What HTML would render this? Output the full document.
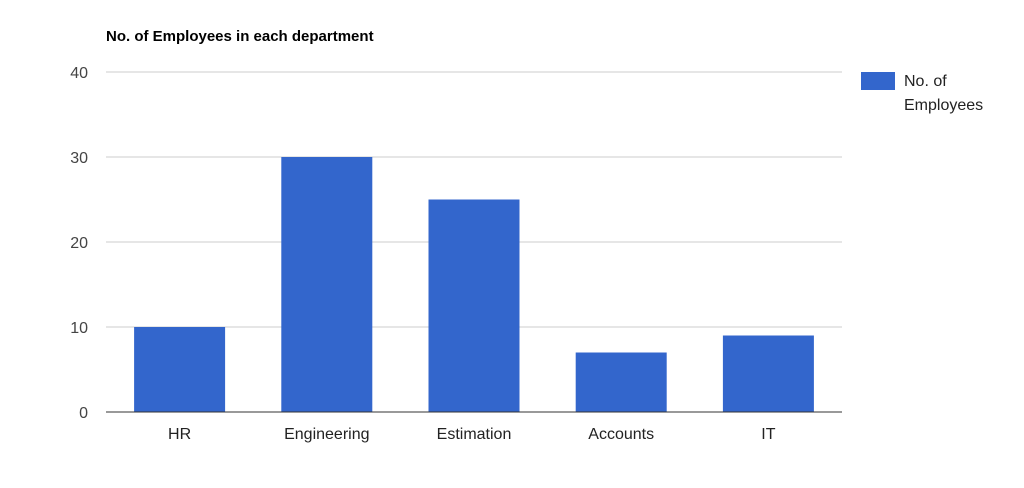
<!DOCTYPE html>
<html><head><meta charset="utf-8"><style>
body{margin:0;background:#fff;font-family:"Liberation Sans",Arial,sans-serif}
</style></head><body>
<svg id="c" width="1024" height="483" xmlns="http://www.w3.org/2000/svg">
<text x="106" y="41" font-size="15" font-weight="bold" fill="#000">No. of Employees in each department</text>
<g id="grid"></g><g id="bars"></g><g id="labels"></g>
<g>
<rect x="861" y="72" width="34" height="18" fill="#3366cc"/>
<text x="904" y="86" font-size="16" fill="#222"><tspan x="904">No. of</tspan><tspan x="904" dy="24">Employees</tspan></text>
</g>
</svg>
<script>
const categories=["HR","Engineering","Estimation","Accounts","IT"];
const values=[10,30,25,7,9];
const ticks=[0,10,20,30,40];
const NS="http://www.w3.org/2000/svg";
const x0=106,x1=842,y0=412,y1=72,maxV=40;
const yS=v=>y0-(v/maxV)*(y0-y1);
const band=(x1-x0)/categories.length,bw=91;
function mk(t,a,p){const e=document.createElementNS(NS,t);for(const k in a)e.setAttribute(k,a[k]);p.appendChild(e);return e;}
const g=document.getElementById('grid'),b=document.getElementById('bars'),l=document.getElementById('labels');
ticks.forEach(t=>{
 const y=yS(t);
 const ln=mk('line',{x1:x0,x2:x1,y1:y,y2:y,stroke:t===0?'#333':'#ccc','stroke-width':1},g);
 
 
 const tx=mk('text',{x:88,y:y+6,'font-size':16,fill:'#444','text-anchor':'end'},l);
 tx.textContent=t;
 
 
});
categories.forEach((c,i)=>{
 const x=x0+band*i+(band-bw)/2;
 const r=mk('rect',{x:x,y:yS(values[i]),width:bw,height:y0-yS(values[i]),fill:'#3366cc'},b);
 
 
 const tx=mk('text',{x:x0+band*i+band/2,y:439,'font-size':16,fill:'#222','text-anchor':'middle'},l);
 tx.textContent=c;
 
 
});
g.parentNode.appendChild(g.querySelector('line'));
</script>
</body></html>
